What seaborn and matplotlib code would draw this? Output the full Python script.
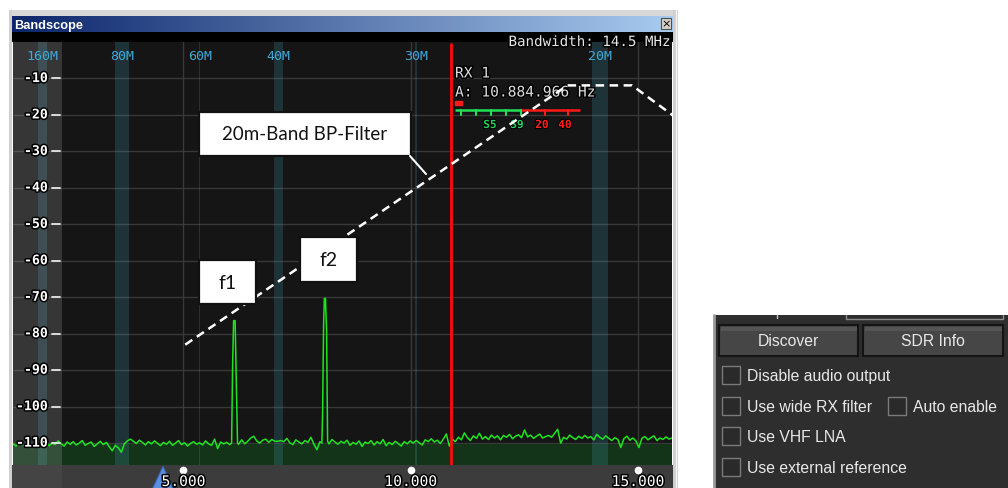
import numpy as np
import pandas as pd
import matplotlib
matplotlib.use("Agg")
import matplotlib.pyplot as plt
import matplotlib.patheffects as pe
import matplotlib.transforms as mtrans
from matplotlib.patches import Rectangle, Polygon
import seaborn as sns

# ---------------- spectrum data ----------------
span_mhz = (1.25, 15.75)          # displayed span (14.5 MHz)
level_range = (-116, 0)           # dBm
level_ticks = [-10, -20, -30, -40, -50, -60, -70, -80, -90, -100, -110]
freq_ticks = [5.0, 10.0, 15.0]
freq_tick_labels = ["5.000", "10.000", "15.000"]

# noise floor samples across the span (dBm)
noise_db = [
    -110.2, -110.8, -109.6, -110.4, -110.9, -109.8, -110.3, -110.6, -109.9, -110.5,
    -110.1, -109.5, -110.7, -110.0, -110.4, -109.4, -110.2, -110.8, -109.7, -110.3,
    -109.6, -110.5, -110.0, -109.3, -110.6, -110.1, -109.7, -110.9, -110.2, -109.5,
    -110.4, -109.8, -111.0, -112.1, -110.6, -111.3, -112.5, -110.2, -109.4, -108.9,
    -109.5, -110.1, -109.2, -109.8, -110.5, -109.6, -110.2, -109.4, -110.0, -110.7,
    -109.8, -110.3, -109.5, -110.6, -110.0, -109.3, -110.4, -109.9, -110.8, -110.1,
    -109.6, -110.3, -109.9, -110.5, -109.4, -110.2, -110.6, -108.9, -111.5, -109.7,
    -110.2, -109.8, -110.4, -110.0, -109.6, -110.3, -109.1, -110.2, -109.5, -108.6,
    -108.1, -109.4, -110.0, -109.2, -108.9, -109.8, -109.0, -109.5, -109.5, -109.3,
    -109.6, -108.7, -109.9, -110.4, -109.1, -109.7, -110.2, -109.3, -109.8, -108.4,
    -110.3, -111.8, -109.6, -110.0, -109.4, -110.2, -109.0, -109.7, -110.3, -109.5,
    -110.0, -109.2, -110.6, -109.8, -110.3, -109.4, -110.9, -109.7, -110.1, -109.3,
    -110.5, -109.6, -110.2, -109.0, -110.7, -109.8, -110.4, -109.5, -110.1, -110.8,
    -109.6, -110.2, -109.4, -110.0, -109.3, -109.9, -110.5, -109.1, -109.6, -108.8,
    -109.7, -109.2, -110.1, -108.9, -107.5, -110.8, -108.9, -109.6, -108.4, -109.1,
    -107.2, -108.5, -109.3, -108.0, -108.7, -107.3, -108.9, -108.2, -109.0, -107.8,
    -108.6, -108.0, -109.1, -107.9, -108.4, -107.6, -108.8, -108.1, -107.7, -108.5,
    -106.4, -108.3, -107.8, -108.7, -108.1, -107.5, -108.6, -108.2, -107.9, -108.4,
    -107.3, -106.2, -110.0, -108.4, -108.9, -107.8, -108.5, -109.0, -108.1, -108.7,
    -107.9, -108.6, -108.2, -109.1, -107.6, -108.4, -108.9, -108.0, -108.7, -109.3,
    -108.5, -109.0, -111.2, -108.8, -108.1, -109.2, -108.6, -109.4, -111.2, -108.7,
    -108.2, -109.1, -108.5, -108.0, -109.3, -108.6, -109.0, -108.3, -108.9, -108.6,
]

# carriers f1 and f2
f1_mhz = [6.060, 6.082, 6.104, 6.137, 6.159, 6.190]
f1_db = [-110.0, -88.8, -76.4, -76.4, -90.0, -110.0]
f2_mhz = [8.046, 8.062, 8.084, 8.102, 8.124, 8.150, 8.172]
f2_db = [-110.0, -102.0, -77.5, -70.3, -70.3, -79.0, -109.5]

noise_floor_fill = -110.3

# 20 m band-pass filter response (dashed)
filter_mhz = [5.04, 13.45, 14.87, 15.80]
filter_db = [-83.0, -11.9, -11.9, -20.4]

# amateur bands
band_names = ["160M", "80M", "60M", "40M", "30M", "20M"]
band_lo = [1.80, 3.50, 5.3515, 7.00, 10.10, 14.00]
band_hi = [2.00, 3.80, 5.3665, 7.20, 10.15, 14.35]

rx_freq_mhz = 10.884966
rx_label = "A: 10.884.966 Hz"
bandwidth_label = "Bandwidth: 14.5 MHz"
out_of_range_hi = 2.33

# ---------------- build trace ----------------
noise_f = np.linspace(span_mhz[0], span_mhz[1], len(noise_db))
noise_df = pd.DataFrame({"freq": noise_f, "level": noise_db})
mask = ((noise_df.freq > f1_mhz[0]) & (noise_df.freq < f1_mhz[-1])) | \
       ((noise_df.freq > f2_mhz[0]) & (noise_df.freq < f2_mhz[-1]))
trace = pd.concat([
    noise_df[~mask],
    pd.DataFrame({"freq": f1_mhz, "level": f1_db}),
    pd.DataFrame({"freq": f2_mhz, "level": f2_db}),
]).sort_values("freq").reset_index(drop=True)
filt = pd.DataFrame({"freq": filter_mhz, "level": filter_db})

# ---------------- figure ----------------
sns.set_style("dark")
plt.rcParams["font.family"] = ["DejaVu Sans"]
W, H = 1008, 489
fig = plt.figure(figsize=(W / 100, H / 100), dpi=100)
fig.patch.set_facecolor("white")

ov = fig.add_axes([0, 0, 1, 1], zorder=2)
ov.set_xlim(0, W)
ov.set_ylim(H, 0)
ov.axis("off")
ov.patch.set_alpha(0)

ax = fig.add_axes([13 / W, (H - 466) / H, 659 / W, 423 / H], zorder=1)
ax.set_facecolor("#151515")
ax.set_xlim(*span_mhz)
ax.set_ylim(*level_range)
ax.set_xticks([])
ax.set_yticks([])
for s in ax.spines.values():
    s.set_visible(False)
ax.grid(False)

mono = "DejaVu Sans Mono"
outline = [pe.withStroke(linewidth=2.2, foreground="black")]

# grid
for lv in level_ticks:
    ax.axhline(lv, color="#383838", lw=1, zorder=1)
for fq in freq_ticks:
    ax.axvline(fq, color="#383838", lw=1, zorder=1)

# noise-floor fill
ax.axhspan(level_range[0], noise_floor_fill, color="#14341a", zorder=1.5, lw=0)

# band shading
for lo, hi in zip(band_lo, band_hi):
    ax.axvspan(lo, hi, color="#3c8ea4", alpha=0.25, lw=0, zorder=2)
# out-of-range region on the left
ax.axvspan(span_mhz[0], out_of_range_hi, color="white", alpha=0.14, lw=0, zorder=2)

# band labels
for name, lo, hi in zip(band_names, band_lo, band_hi):
    ax.text((lo + hi) / 2, -3.6, name, color="#42a8d8", fontsize=9.6,
            family=mono, ha="center", va="center", zorder=6)

# spectrum trace
sns.lineplot(data=trace, x="freq", y="level", ax=ax, color="#1fe41f",
             lw=1.1, estimator=None, sort=False, zorder=4)

# receiver marker
ax.axvline(rx_freq_mhz, ymax=0.995, color="#ff0c0c", lw=2, zorder=4.5)

# RX readout and S-meter (fixed pixel placement inside the scope)
ax.text(455, 74, "RX 1", transform=ov.transData, color="#dcdcdc", fontsize=10.5,
        family=mono, ha="left", va="center", path_effects=outline, zorder=5)
ax.text(455, 93, rx_label, transform=ov.transData, color="#dcdcdc", fontsize=10.5,
        family=mono, ha="left", va="center", path_effects=outline, zorder=5)
ax.add_patch(Rectangle((455, 101.5), 7, 4, transform=ov.transData,
                       color="#ff1a1a", zorder=5, clip_on=False))
ax.plot([455, 521], [110.5, 110.5], color="#22e05a", lw=1.8,
        transform=ov.transData, zorder=5, solid_capstyle="butt")
ax.plot([521, 580], [110.5, 110.5], color="#ff1a1a", lw=1.8,
        transform=ov.transData, zorder=5, solid_capstyle="butt")
for tx in [460.7, 475.7, 490.7, 505.7, 520.7]:
    ax.plot([tx, tx], [110.5, 116], color="#22e05a", lw=1.5,
            transform=ov.transData, zorder=5)
for tx in [545, 568]:
    ax.plot([tx, tx], [110.5, 116], color="#ff1a1a", lw=1.5,
            transform=ov.transData, zorder=5)
for lab, lx, col in [("S5", 490, "#22d05a"), ("S9", 517, "#22d05a"),
                     ("20", 542, "#ff2020"), ("40", 565, "#ff2020")]:
    ax.text(lx, 126, lab, transform=ov.transData, color=col, fontsize=8,
            fontweight="bold", family=mono, ha="center", va="center",
            path_effects=[pe.withStroke(linewidth=1.5, foreground="black")], zorder=5)

# filter response
sns.lineplot(data=filt, x="freq", y="level", ax=ax, color="white", lw=1.8,
             estimator=None, sort=False, zorder=6, dashes=False)
ax.lines[-1].set_dashes((3.4, 2.2))
ax.set_xlabel("")
ax.set_ylabel("")

# level tick labels
ytr = mtrans.blended_transform_factory(ov.transData, ax.transData)
for lv in level_ticks:
    ax.text(48, lv, f"{lv}", transform=ytr, color="white", fontsize=9.5,
            fontweight="bold", family=mono, ha="right", va="center",
            path_effects=outline, zorder=7, clip_on=False)
    ax.plot([52, 60], [lv, lv], transform=ytr, color="#e8e8e8", lw=1.3,
            zorder=7, clip_on=False)

# ---------------- window chrome ----------------
# frame
ov.add_patch(Rectangle((9, 11), 669, 6, color="#d8d8d8", lw=0))
ov.add_patch(Rectangle((9, 11), 3, 478, color="#d0d0d0", lw=0))
ov.add_patch(Rectangle((672.5, 11), 5, 478, color="#cfcfcf", lw=0))
ov.plot([675.5, 675.5], [11, 489], color="#f4f4f4", lw=1)
# title bar gradient
grad = np.linspace(0, 1, 256)
c0 = np.array([0x0c, 0x25, 0x6b]) / 255
c1 = np.array([0xa8, 0xcb, 0xf0]) / 255
img = (c0[None, :] * (1 - grad[:, None]) + c1[None, :] * grad[:, None])[None, :, :]
ov.imshow(img, extent=(12, 672.5, 33, 17), aspect="auto", zorder=1)
ov.text(14, 25.5, "Bandscope", color="white", fontsize=9.2, fontweight="bold",
        family="Liberation Sans", ha="left", va="center", zorder=3)
ov.add_patch(Rectangle((661, 19), 10, 11, facecolor="#d4d0c8",
                       edgecolor="#505050", lw=0.8, zorder=3))
ov.text(666, 24.8, "×", color="black", fontsize=8, ha="center", va="center", zorder=4)
# black strip under the title
ov.add_patch(Rectangle((12, 33), 660.5, 10, color="black", lw=0, zorder=1))
ov.text(670, 43, bandwidth_label, color="#e6e6e6", fontsize=10.2, family=mono,
        ha="right", va="center", path_effects=outline, zorder=3)
# bottom frequency strip
ov.add_patch(Rectangle((12, 466), 660.5, 23, color="#3c3c3c", lw=0, zorder=1))
ov.add_patch(Rectangle((12, 466), 50, 23, color="#444444", lw=0, zorder=1.1))
ov.add_patch(Polygon([(163, 467.5), (152.5, 490), (173, 490)], closed=True,
                     facecolor="#5b8fe0", edgecolor="#3c6cc0", lw=0.8, zorder=2))
xtr = mtrans.blended_transform_factory(ax.transData, ov.transData)
for fq, lab in zip(freq_ticks, freq_tick_labels):
    ov.plot([fq], [470.5], marker="o", ms=4.5, color="white", transform=xtr, zorder=3)
    ov.text(fq, 482.5, lab, transform=xtr, color="white", fontsize=10.5,
            family=mono, ha="center", va="center", path_effects=outline, zorder=4)

# ---------------- annotation boxes ----------------
ann_font = "Lato"
box_kw = dict(facecolor="white", edgecolor="#111111", lw=1.6, zorder=5)
ov.add_patch(Rectangle((199, 113), 212, 44, **box_kw))
ov.text(305, 135, "20m-Band BP-Filter", fontsize=13.5, family=ann_font,
        color="#111111", ha="center", va="center", zorder=6)
ov.plot([410, 426], [157, 175], color="white", lw=1.5, zorder=5)
ov.add_patch(Rectangle((199, 261), 57, 44, **box_kw))
ov.text(227.5, 283.5, "f1", fontsize=14, family=ann_font, color="#111111",
        ha="center", va="center", zorder=6)
ov.add_patch(Rectangle((300, 238), 57, 45, **box_kw))
ov.text(328.5, 261, "f2", fontsize=14, family=ann_font, color="#111111",
        ha="center", va="center", zorder=6)

# ---------------- settings panel ----------------
pfont = "Liberation Sans"
ov.add_patch(Rectangle((715, 316), 293, 173, color="#2e2e2e", lw=0, zorder=1))
ov.plot([714, 714], [316, 489], color="#9a9a9a", lw=2, zorder=2)
ov.plot([846, 846, 1003, 1003], [316, 320, 320, 316], color="#8a8a8a", lw=1, zorder=2)
ov.plot([777, 777], [316, 318.5], color="#c8c8c8", lw=1, zorder=2)
for bx, bw, lab in [(719, 139, "Discover"), (863, 140, "SDR Info")]:
    ov.add_patch(Rectangle((bx, 326), bw, 31, facecolor="#464646",
                           edgecolor="#141414", lw=1.5, zorder=2))
    ov.add_patch(Rectangle((bx + 1.5, 327.5), bw - 3, 4, facecolor="#555555",
                           lw=0, zorder=2.1))
    ov.text(bx + bw / 2, 342, lab, color="#e8e8e8", fontsize=11.3, family=pfont,
            ha="center", va="center", zorder=3)
checks = [(722, 367, "Disable audio output"), (722, 398, "Use wide RX filter"),
          (722, 428, "Use VHF LNA"), (722, 459, "Use external reference"),
          (888, 398, "Auto enable")]
for cx, cy, lab in checks:
    ov.add_patch(Rectangle((cx, cy), 18, 18, facecolor="#2a2a2a",
                           edgecolor="#7a7a7a", lw=1, zorder=2))
    ov.text(cx + 25, cy + 9.5, lab, color="#e8e8e8", fontsize=11.3, family=pfont,
            ha="left", va="center", zorder=3)

fig.savefig("out.png", dpi=100, facecolor="white")
